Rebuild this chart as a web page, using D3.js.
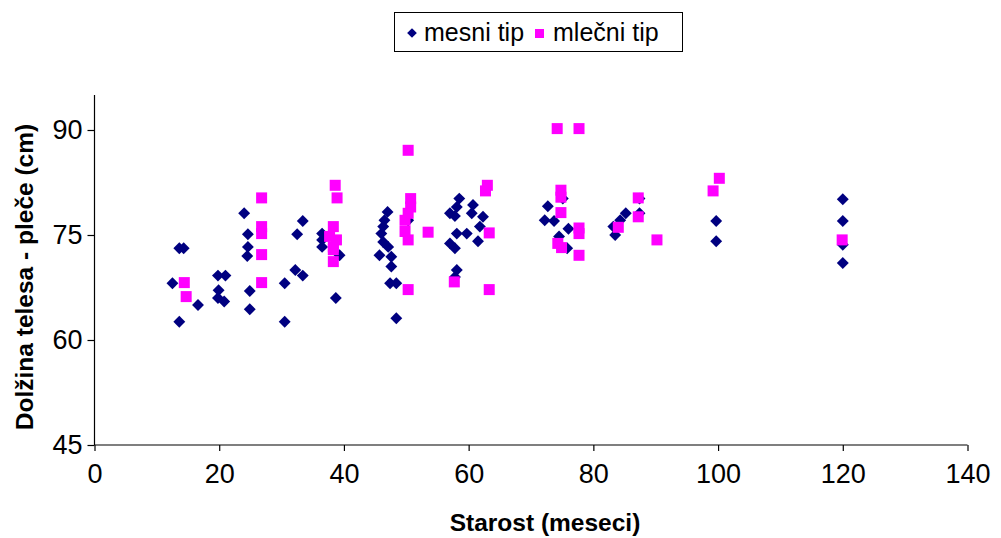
<!DOCTYPE html>
<html>
<head>
<meta charset="utf-8">
<script src="https://cdn.jsdelivr.net/npm/d3@7"></script>
<style>
  body { margin: 0; background: #fff; }
  text { font-family: Arial, "Liberation Sans", sans-serif; }
</style>
</head>
<body>
<script>
// age (months), body length (cm)
let mesni = [
  [24.0,78.1],[24.6,75.1],[13.6,73.1],[14.3,73.1],[24.6,73.3],[24.5,72],[12.5,68.1],[19.8,69.2],
  [21.0,69.2],[19.9,67.1],[19.8,66.0],[20.8,65.5],[16.6,65],[13.6,62.6],[24.9,67.0],[24.9,64.4],
  [30.5,68.1],[30.5,62.6],[32.5,75.1],[33.4,77.0],[32.2,70],[33.4,69.2],
  [36.5,75.2],[36.5,74.3],[36.5,73.3],[39.3,72.1],[38.7,66.0],
  [47.0,78.3],[46.5,77.1],[46.3,76.2],[46.0,75.2],[46.3,74.0],[47.1,73.3],[45.7,72.1],[47.6,71.9],
  [47.6,70.5],[47.4,68.1],[48.4,68.1],[48.4,63.1],[50.3,77.1],
  [58.5,80.2],[58.1,79.0],[57.0,78.1],[57.8,77.7],[60.7,79.3],[60.5,78.1],[62.3,77.6],[58.1,75.2],
  [59.7,75.2],[57.0,73.8],[57.8,73.1],[61.8,76.2],[61.5,74.1],[58.1,70.0],[57.8,69.0],
  [72.7,79.1],[72.2,77.1],[73.7,77.0],[75.1,80.2],[76.0,75.9],[74.5,74.8],[75.8,73.1],
  [85.2,78.1],[84.3,77.1],[83.2,76.2],[83.5,75.0],[87.4,80.2],[87.4,78.1],
  [99.7,77.0],[99.7,74.1],[120,80.1],[120,77],[120,73.6],[120,71]
];

let mlecni = [
  [26.8,80.3],[26.8,76.2],[26.8,75.2],[26.8,72.2],[26.8,68.2],[14.4,68.2],[14.7,66.2],
  [38.6,82.1],[38.9,80.3],[38.3,76.2],[37.7,74.8],[38.8,74.3],[38.3,73.3],[38.3,72.9],[38.3,71.2],
  [50.3,87.1],[50.7,80.2],[50.7,79.0],[50.3,78.1],[49.8,77.1],[49.8,75.5],[50.3,74.3],[53.5,75.4],[50.3,67.2],
  [63.0,82.1],[62.7,81.3],[63.3,75.3],[63.3,67.2],[57.7,68.3],
  [74.2,90.2],[77.7,90.2],[74.8,81.4],[74.8,80.4],[74.8,78.2],[77.7,76.0],[77.7,75.2],[74.3,73.8],
  [74.9,73.2],[77.7,72.1],
  [87.2,80.3],[87.2,77.6],[84.0,76.1],[90.2,74.3],
  [100.2,83.1],[99.2,81.3],[119.9,74.3]
];

let xTicks = [0, 20, 40, 60, 80, 100, 120, 140];
let yTicks = [45, 60, 75, 90];
let seriesNames = ["mesni tip", "mlečni tip"];

let width = 1001, height = 538;

let svg = d3.select("body").append("svg")
  .attr("width", width)
  .attr("height", height);

let x = d3.scaleLinear().domain([0, 140]).range([94.5, 967.5]);
let y = d3.scaleLinear().domain([45, 95]).range([445, 95]);

// axes
let xAxis = d3.axisBottom(x).tickValues(xTicks).tickSize(7).tickPadding(12);
let yAxis = d3.axisLeft(y).tickValues(yTicks).tickSize(7).tickPadding(5);

let gx = svg.append("g").attr("transform", `translate(0,${y(45)})`).call(xAxis);
let gy = svg.append("g").attr("transform", `translate(${x(0)},0)`).call(yAxis);

[gx, gy].forEach(g => {
  g.selectAll("path").attr("stroke", "#000").attr("stroke-width", 1.2);
  g.selectAll("line").attr("stroke", "#000").attr("stroke-width", 1.2);
  g.selectAll("text").attr("font-size", 27).attr("fill", "#000")
    .style("font-family", "Arial, 'Liberation Sans', sans-serif");
});
gx.selectAll("path").attr("d", `M${x(0)},0H${x(140)}`);
gx.selectAll(".tick line").attr("y2", 6);
gy.selectAll("path").attr("d", `M0,${y(95)}V${y(45)}`);

// axis titles
svg.append("text")
  .attr("x", 545)
  .attr("y", 531)
  .attr("text-anchor", "middle")
  .attr("font-size", 24.5)
  .attr("font-weight", "bold")
  .text("Starost (meseci)");

svg.append("text")
  .attr("transform", "translate(33,277) rotate(-90)")
  .attr("text-anchor", "middle")
  .attr("font-size", 24.5)
  .attr("font-weight", "bold")
  .text("Dolžina telesa - pleče (cm)");

// points: diamonds first, then squares on top
let diamond = d3.symbol().type(d3.symbolDiamond2).size(90);

svg.append("g").selectAll("path")
  .data(mesni)
  .join("path")
  .attr("d", diamond)
  .attr("transform", d => `translate(${x(d[0])},${y(d[1])})`)
  .attr("fill", "#000080");

svg.append("g").selectAll("rect")
  .data(mlecni)
  .join("rect")
  .attr("x", d => x(d[0]) - 5.5)
  .attr("y", d => y(d[1]) - 5.5)
  .attr("width", 11)
  .attr("height", 11)
  .attr("fill", "#ff00ff");

// legend
let legend = svg.append("g");
legend.append("rect")
  .attr("x", 394.5).attr("y", 12.5)
  .attr("width", 288).attr("height", 39)
  .attr("fill", "none").attr("stroke", "#000").attr("stroke-width", 1);

legend.append("path")
  .attr("d", d3.symbol().type(d3.symbolDiamond2).size(60))
  .attr("transform", "translate(412,33)")
  .attr("fill", "#000080");
legend.append("text")
  .attr("x", 424).attr("y", 41)
  .attr("font-size", 25)
  .text(seriesNames[0]);

legend.append("rect")
  .attr("x", 535).attr("y", 29)
  .attr("width", 9).attr("height", 9)
  .attr("fill", "#ff00ff");
legend.append("text")
  .attr("x", 553).attr("y", 41)
  .attr("font-size", 25)
  .text(seriesNames[1]);
</script>
</body>
</html>
